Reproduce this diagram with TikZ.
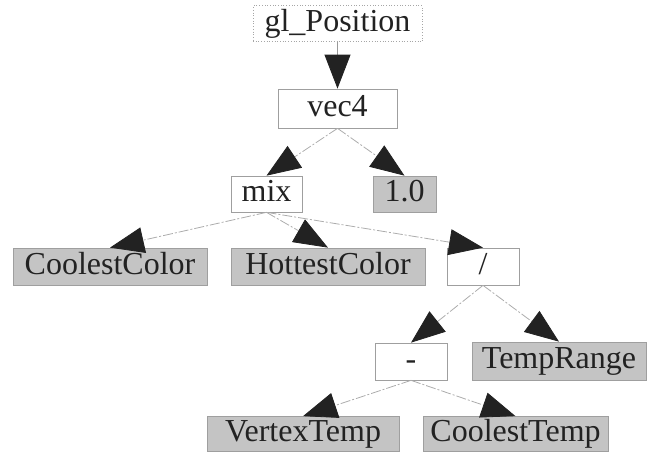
\documentclass[tikz,border=0pt]{standalone}
\usepackage{fontspec}
\setmainfont{Liberation Serif}
\usetikzlibrary{arrows.meta}
\definecolor{ink}{HTML}{222222}
\definecolor{shade}{HTML}{C4C4C4}
\tikzset{
  box/.style={draw=gray!75, line width=0.7pt, inner sep=0pt, text=ink,
    font=\fontsize{32}{32}\selectfont, text height=22pt, text depth=7pt},
  opbox/.style={box, fill=white},
  varbox/.style={box, fill=shade},
  rootbox/.style={box, draw=gray!70, dotted, line width=1pt},
  edge/.style={draw=gray!65, line width=0.8pt,
    dash pattern=on 10pt off 2pt on 2pt off 2pt,
    -{Triangle[length=34pt,width=26pt,color=ink,fill=ink]}},
  rootedge/.style={edge, draw=gray!80, solid}
}
\begin{document}
\begin{tikzpicture}[x=1pt,y=-1pt]
\useasboundingbox (0,0) rectangle (655,452);
\node[rootbox, minimum width=169pt, minimum height=36pt] (gl) at (337.5,24) {gl\_Position};
\node[opbox, minimum width=119pt, minimum height=39pt] (vec) at (337.5,108.5) {vec4};
\node[opbox, minimum width=71pt, minimum height=36pt] (mix) at (266.5,194) {mix};
\node[varbox, minimum width=63pt, minimum height=36pt] (one) at (404.5,194) {1.0};
\node[varbox, minimum width=194pt, minimum height=37pt] (cc) at (110,266.5) {CoolestColor};
\node[varbox, minimum width=194pt, minimum height=37pt] (hc) at (328,266.5) {HottestColor};
\node[opbox, minimum width=72pt, minimum height=37pt] (div) at (483,266.5) {/};
\node[opbox, minimum width=72pt, minimum height=37pt] (minus) at (411,361.5) {-};
\node[varbox, minimum width=174pt, minimum height=38pt] (tr) at (559,361) {TempRange};
\node[varbox, minimum width=192pt, minimum height=35pt] (vt) at (303,434) {VertexTemp};
\node[varbox, minimum width=185pt, minimum height=35pt] (ct) at (515.5,434) {CoolestTemp};
\draw[rootedge] (gl.south) -- (vec.north);
\draw[edge] (vec.south) -- (mix.north);
\draw[edge] (vec.south) -- (one.north);
\draw[edge] (mix.south) -- (cc.north);
\draw[edge] (mix.south) -- (hc.north);
\draw[edge] (mix.south) -- (div.north);
\draw[edge] (div.south) -- (minus.north);
\draw[edge] (div.south) -- (tr.north);
\draw[edge] (minus.south) -- (vt.north);
\draw[edge] (minus.south) -- (ct.north);
\end{tikzpicture}
\end{document}
